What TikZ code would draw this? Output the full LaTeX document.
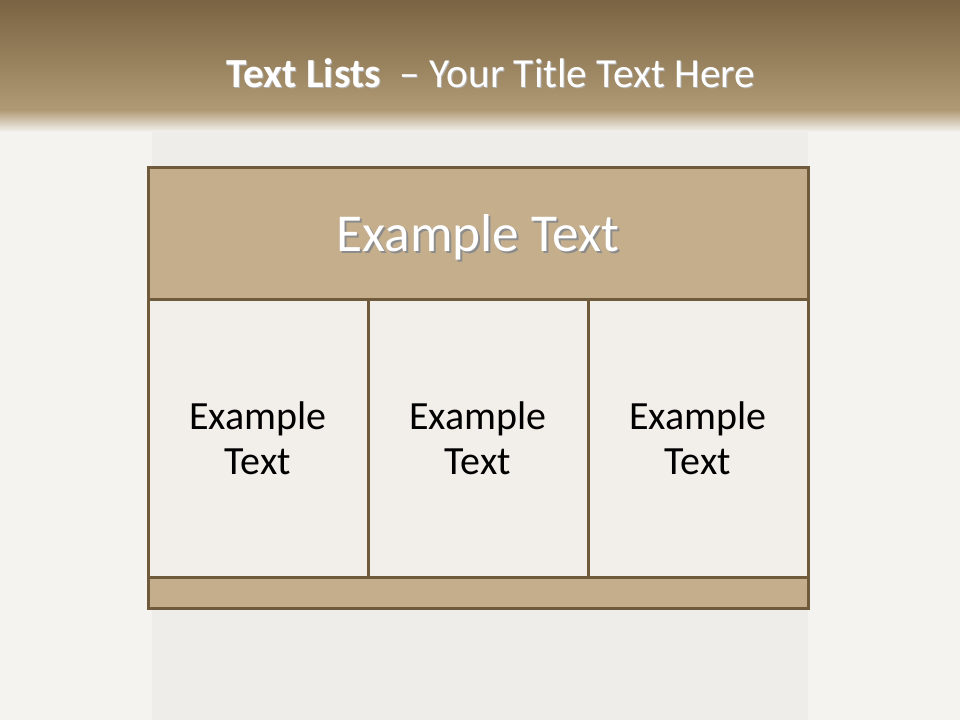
\documentclass[tikz,border=0pt]{standalone}
\usepackage{fontspec}
\setmainfont{Carlito}
\usetikzlibrary{positioning,calc}
\definecolor{topbrown}{RGB}{122,99,66}
\definecolor{lowbrown}{RGB}{176,154,116}
\definecolor{paper}{RGB}{244,243,240}
\definecolor{paperband}{RGB}{238,237,234}
\definecolor{framebrown}{RGB}{111,90,60}
\definecolor{headtan}{RGB}{196,174,140}
\definecolor{cellcream}{RGB}{242,238,233}

\begin{document}
\begin{tikzpicture}[
    x=0.75pt, y=-0.75pt,
    panel/.style={draw=framebrown, line width=2.25pt, inner sep=0pt,
        outer sep=0pt, align=center},
    celltext/.style={font=\fontsize{30}{34}\selectfont, text=black}
]
\useasboundingbox (0,0) rectangle (960,720);
% background
\fill[paper] (0,0) rectangle (960,720);
\fill[paperband] (152,130) rectangle (808,720);
\shade[top color=topbrown, bottom color=lowbrown] (0,0) rectangle (960,110);
\shade[top color=lowbrown, bottom color=paper] (0,110) rectangle (960,132);

% title
\node[anchor=base, text=black!30, font=\fontsize{31}{37}\selectfont]
    (titleshadow) at (492,89) {\bfseries Text Lists\ \ \mdseries– Your Title Text Here};
\node[anchor=base, text=white, font=\fontsize{31}{37}\selectfont]
    (title) at (491,88) {\bfseries Text Lists\ \ \mdseries– Your Title Text Here};

% table
\node[panel, fill=headtan, minimum width=495pt, minimum height=99pt]
    (head) at (478,234) {};
\node[panel, fill=cellcream, minimum width=165pt, minimum height=207.75pt,
    anchor=north west, celltext] (cellA) at (head.south west) {Example\\Text};
\node[panel, fill=cellcream, minimum width=165pt, minimum height=207.75pt,
    right=0pt of cellA, celltext] (cellB) {Example\\Text};
\node[panel, fill=cellcream, minimum width=165pt, minimum height=207.75pt,
    right=0pt of cellB, celltext] (cellC) {Example\\Text};
\node[panel, fill=headtan, minimum width=495pt, minimum height=23.25pt,
    anchor=north west] (foot) at (cellA.south west) {};

% header text with shadow
\node[text=black!45, font=\fontsize{40}{46}\selectfont]
    (headshadow) at ($(head.center)+(2,5)$) {Example Text};
\node[text=white, font=\fontsize{40}{46}\selectfont]
    (headtext) at ($(head.center)+(0,3)$) {Example Text};
\end{tikzpicture}
\end{document}
